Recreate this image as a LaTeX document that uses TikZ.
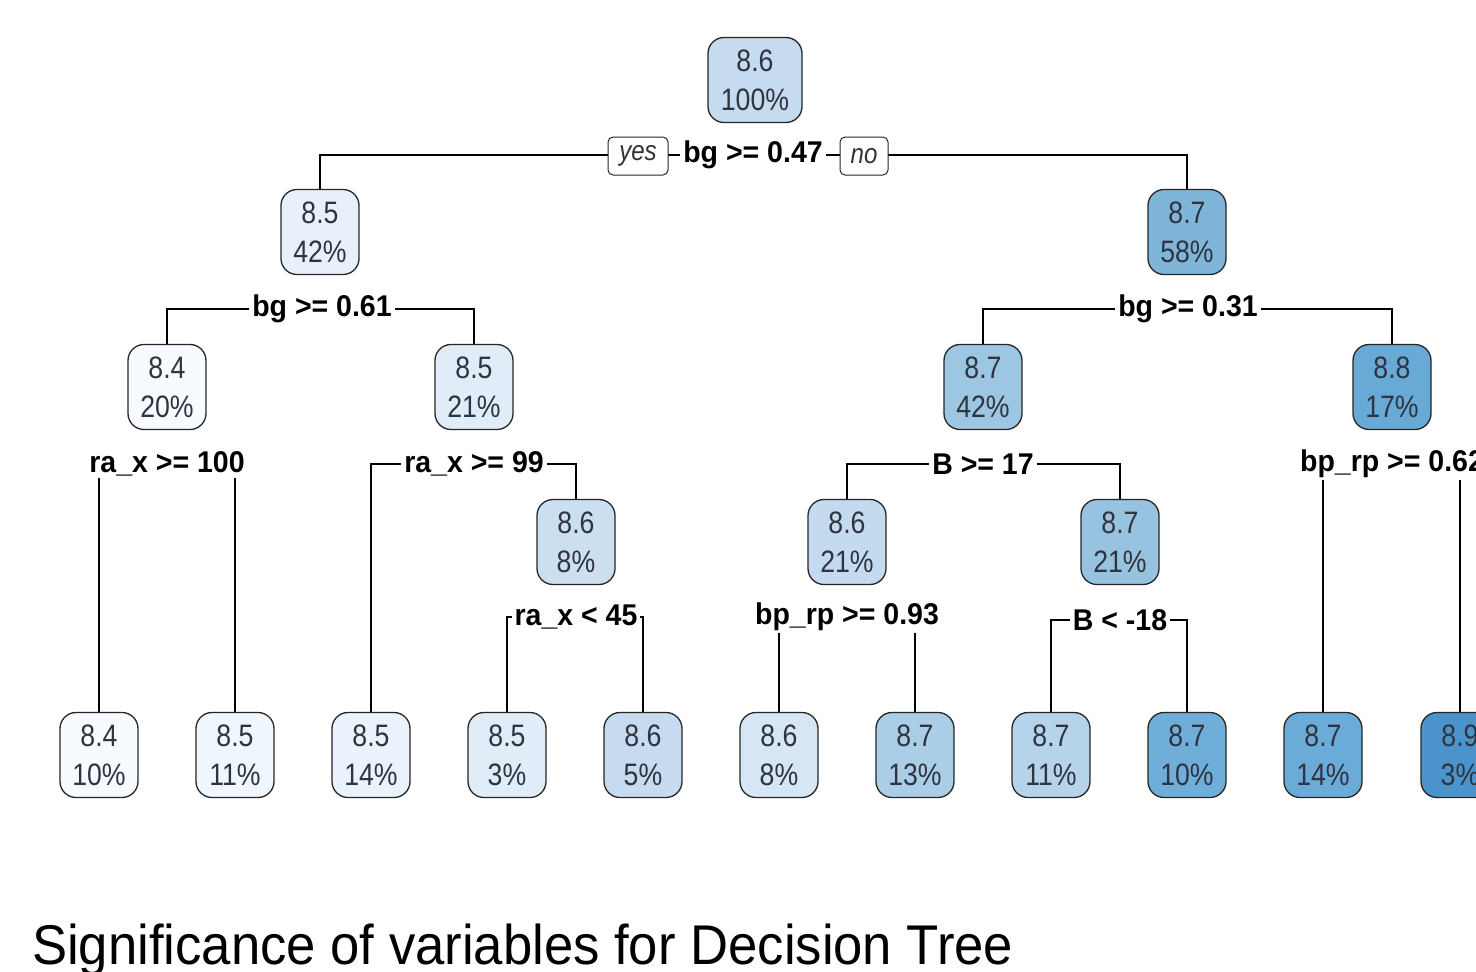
\documentclass[tikz,border=0pt]{standalone}
\usepackage{fontspec}
\setmainfont{Liberation Sans}
\newfontfamily\nodefont[FakeStretch=0.86]{Liberation Sans}
\newfontfamily\lblfont[FakeStretch=0.95]{Liberation Sans}
\newfontfamily\titlefont[FakeStretch=0.94]{Liberation Sans}
\pgfdeclarelayer{back}
\pgfdeclarelayer{edges}
\pgfsetlayers{back,edges,main}
\definecolor{c0}{HTML}{C6DBEF}
\definecolor{cA}{HTML}{E8F0FA}
\definecolor{cB}{HTML}{80B5DA}
\definecolor{cC}{HTML}{F7FBFF}
\definecolor{cD}{HTML}{E0ECF8}
\definecolor{cE}{HTML}{9CC6E2}
\definecolor{cF}{HTML}{68A9D6}
\definecolor{cG}{HTML}{CCDFF1}
\definecolor{cH}{HTML}{C4DAEF}
\definecolor{cI}{HTML}{97C3E0}
\definecolor{l1}{HTML}{F7FBFF}
\definecolor{l2}{HTML}{F0F6FD}
\definecolor{l3}{HTML}{EAF2FB}
\definecolor{l4}{HTML}{E0ECF8}
\definecolor{l5}{HTML}{C6DBEF}
\definecolor{l6}{HTML}{D6E6F4}
\definecolor{l7}{HTML}{A9CEE6}
\definecolor{l8}{HTML}{B5D4EA}
\definecolor{l9}{HTML}{6FAED9}
\definecolor{l10}{HTML}{6BABD8}
\definecolor{l11}{HTML}{4A94CB}
\definecolor{txt}{HTML}{2E3440}
\tikzset{
  tnode/.style={draw=black!85, line width=1.3pt, rounded corners=16pt, minimum width=78pt, minimum height=85pt,
    inner xsep=5pt, align=center, text=txt, font=\nodefont\fontsize{31}{39}\selectfont},
  split/.style={fill=white, inner xsep=3pt, inner ysep=2pt, font=\lblfont\bfseries\fontsize{30}{32}\selectfont, text=black},
  tag/.style={draw=black!85, line width=1pt, fill=white, rounded corners=5pt, minimum height=38pt, inner xsep=5pt,
    font=\nodefont\itshape\fontsize{28}{30}\selectfont, text=black!80},
  edge/.style={line width=1.3pt, black}
}
\begin{document}
\begin{tikzpicture}[x=1pt,y=-1pt]
\useasboundingbox (0,0) rectangle (1476,972);
\clip (0,0) rectangle (1476,972);
\begin{pgfonlayer}{back}
\fill[white] (0,0) rectangle (1476,972);
\end{pgfonlayer}
% nodes
\node[tnode, fill=c0, minimum width=94pt] (n0) at (755,80) {8.6\\100\%};
\node[tnode, fill=cA] (n1) at (320,232) {8.5\\42\%};
\node[tnode, fill=cB] (n2) at (1187,232) {8.7\\58\%};
\node[tnode, fill=cC] (n3) at (167,387) {8.4\\20\%};
\node[tnode, fill=cD] (n4) at (474,387) {8.5\\21\%};
\node[tnode, fill=cE] (n5) at (983,387) {8.7\\42\%};
\node[tnode, fill=cF] (n6) at (1392,387) {8.8\\17\%};
\node[tnode, fill=cG] (n7) at (576,542) {8.6\\8\%};
\node[tnode, fill=cH] (n8) at (847,542) {8.6\\21\%};
\node[tnode, fill=cI] (n9) at (1120,542) {8.7\\21\%};
% leaves
\node[tnode, fill=l1] (f1) at (99,755) {8.4\\10\%};
\node[tnode, fill=l2] (f2) at (235,755) {8.5\\11\%};
\node[tnode, fill=l3] (f3) at (371,755) {8.5\\14\%};
\node[tnode, fill=l4] (f4) at (507,755) {8.5\\3\%};
\node[tnode, fill=l5] (f5) at (643,755) {8.6\\5\%};
\node[tnode, fill=l6] (f6) at (779,755) {8.6\\8\%};
\node[tnode, fill=l7] (f7) at (915,755) {8.7\\13\%};
\node[tnode, fill=l8] (f8) at (1051,755) {8.7\\11\%};
\node[tnode, fill=l9] (f9) at (1187,755) {8.7\\10\%};
\node[tnode, fill=l10] (f10) at (1323,755) {8.7\\14\%};
\node[tnode, fill=l11] (f11) at (1460,755) {8.9\\3\%};
% split labels
\node[split] (s0) at (753,155) {bg >= 0.47};
\node[split] (s1) at (322,309) {bg >= 0.61};
\node[split] (s2) at (1188,309) {bg >= 0.31};
\node[split] (s3) at (167,464) {ra\_x >= 100};
\node[split] (s4) at (474,464) {ra\_x >= 99};
\node[split] (s5) at (983,464) {B >= 17};
\node[split] (s6) at (1392,464) {bp\_rp >= 0.62};
\node[split] (s7) at (576,617) {ra\_x < 45};
\node[split] (s8) at (847,617) {bp\_rp >= 0.93};
\node[split] (s9) at (1120,620) {B < -18};
\node[tag, minimum width=60pt] (yes) at (638,156) {yes};
\node[tag, minimum width=48pt] (no) at (864,156) {no};
% edges
\begin{pgfonlayer}{edges}
\draw[edge] (s0.center) -| (n1.north);
\draw[edge] (s0.center) -| (n2.north);
\draw[edge] (s1.center) -| (n3.north);
\draw[edge] (s1.center) -| (n4.north);
\draw[edge] (s2.center) -| (n5.north);
\draw[edge] (s2.center) -| (n6.north);
\draw[edge] (s3.center) -| (f1.north);
\draw[edge] (s3.center) -| (f2.north);
\draw[edge] (s4.center) -| (f3.north);
\draw[edge] (s4.center) -| (n7.north);
\draw[edge] (s5.center) -| (n8.north);
\draw[edge] (s5.center) -| (n9.north);
\draw[edge] (s6.center) -| (f10.north);
\draw[edge] (s6.center) -| (f11.north);
\draw[edge] (s7.center) -| (f4.north);
\draw[edge] (s7.center) -| (f5.north);
\draw[edge] (s8.center) -| (f6.north);
\draw[edge] (s8.center) -| (f7.north);
\draw[edge] (s9.center) -| (f8.north);
\draw[edge] (s9.center) -| (f9.north);
\end{pgfonlayer}
% title
\node[anchor=base west, inner sep=0pt, font=\titlefont\fontsize{56}{60}\selectfont] (title) at (32,964) {Significance of variables for Decision Tree};
\end{tikzpicture}
\end{document}
